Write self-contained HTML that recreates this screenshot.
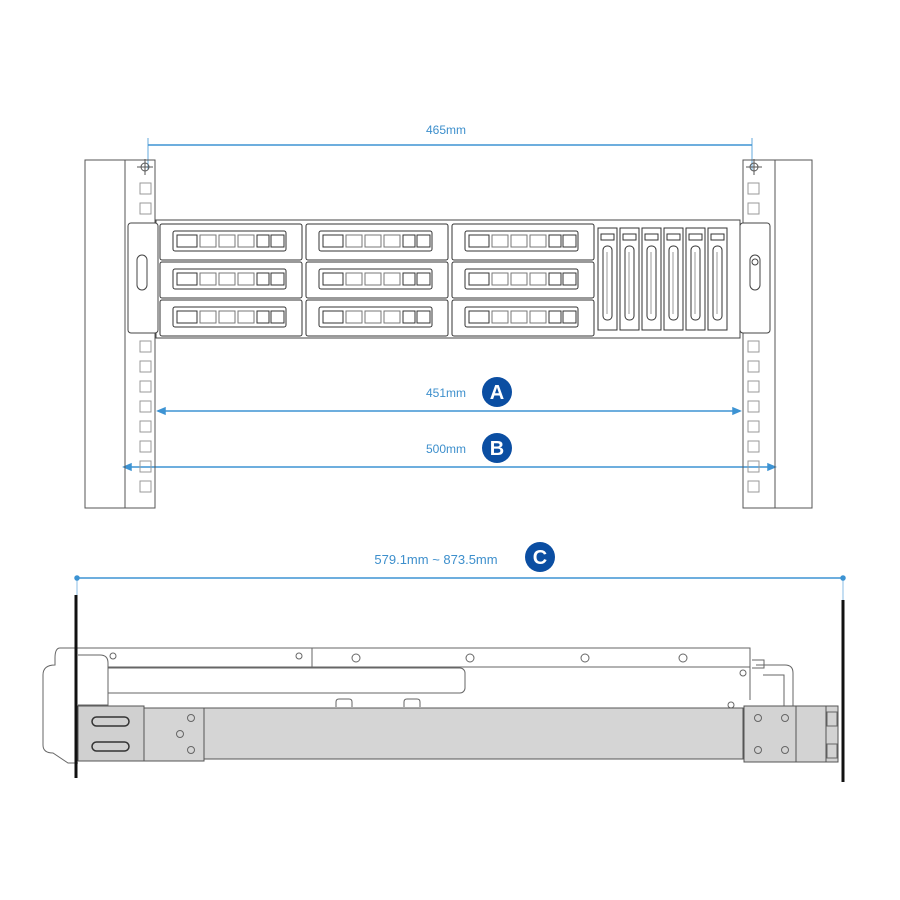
<!DOCTYPE html>
<html><head><meta charset="utf-8"><style>
html,body{margin:0;padding:0;background:#fff;}
svg{display:block;}
text{font-family:"Liberation Sans",sans-serif;}
</style></head><body>
<svg width="900" height="900" viewBox="0 0 900 900" xmlns="http://www.w3.org/2000/svg">
<rect width="900" height="900" fill="#fff"/>
<g stroke="#3d93d3" stroke-width="1.5" fill="#3d93d3">
<line x1="148" y1="145" x2="752" y2="145"/>
<line x1="148" y1="138" x2="148" y2="170" stroke-width="0.8"/>
<line x1="752" y1="138" x2="752" y2="170" stroke-width="0.8"/>
<line x1="158" y1="411" x2="740" y2="411"/>
<path d="M158 411 l7 -3 v6z M740 411 l-7 -3 v6z"/>
<line x1="124" y1="467" x2="775" y2="467"/>
<path d="M124 467 l7 -3 v6z M775 467 l-7 -3 v6z"/>
<line x1="77" y1="578" x2="843" y2="578"/>
<circle cx="77" cy="578" r="2"/><circle cx="843" cy="578" r="2"/>
<line x1="77" y1="578" x2="77" y2="595" stroke-width="0.6"/>
<line x1="843" y1="578" x2="843" y2="600" stroke-width="0.6"/>
</g>
<g fill="#3d8fcc" font-size="12" text-anchor="middle">
<text x="446" y="134">465mm</text>
<text x="446" y="397">451mm</text>
<text x="446" y="453">500mm</text>
<text x="436" y="564" font-size="13">579.1mm ~ 873.5mm</text>
</g>
<g fill="#0b4ea2"><circle cx="497" cy="392" r="15"/><circle cx="497" cy="448" r="15"/><circle cx="540" cy="557" r="15"/></g>
<g fill="#fff" font-size="20" text-anchor="middle" font-weight="bold">
<text x="497" y="399">A</text><text x="497" y="455">B</text><text x="540" y="564">C</text></g>

<g fill="none" stroke="#555" stroke-width="1">
<rect x="85" y="160" width="70" height="348"/>
<line x1="125" y1="160" x2="125" y2="508"/>
<rect x="743" y="160" width="69" height="348"/>
<line x1="775" y1="160" x2="775" y2="508"/>
<circle cx="145" cy="167" r="4"/><line x1="137" y1="167" x2="153" y2="167"/><line x1="145" y1="159" x2="145" y2="175"/>
<circle cx="754" cy="167" r="4"/><line x1="746" y1="167" x2="762" y2="167"/><line x1="754" y1="159" x2="754" y2="175"/>
<g stroke="#999">
<rect x="140" y="183" width="11" height="11"/><rect x="140" y="203" width="11" height="11"/>
<rect x="748" y="183" width="11" height="11"/><rect x="748" y="203" width="11" height="11"/>
</g>
<g stroke="#999">
<rect x="140" y="341" width="11" height="11"/><rect x="140" y="361" width="11" height="11"/><rect x="140" y="381" width="11" height="11"/><rect x="140" y="401" width="11" height="11"/><rect x="140" y="421" width="11" height="11"/><rect x="140" y="441" width="11" height="11"/><rect x="140" y="461" width="11" height="11"/><rect x="140" y="481" width="11" height="11"/>
<rect x="748" y="341" width="11" height="11"/><rect x="748" y="361" width="11" height="11"/><rect x="748" y="381" width="11" height="11"/><rect x="748" y="401" width="11" height="11"/><rect x="748" y="421" width="11" height="11"/><rect x="748" y="441" width="11" height="11"/><rect x="748" y="461" width="11" height="11"/><rect x="748" y="481" width="11" height="11"/>
</g>
</g>

<g fill="#fff" stroke="#444" stroke-width="1">
<rect x="156" y="220" width="584" height="118"/>
<rect x="128" y="223" width="30" height="110" rx="3"/>
<rect x="137" y="255" width="10" height="35" rx="5"/>
<rect x="740" y="223" width="30" height="110" rx="3"/>
<rect x="750" y="255" width="10" height="35" rx="5"/>
<circle cx="755" cy="262" r="3"/>
</g>
<g fill="none" stroke="#333" stroke-width="1">
<g id="row">
<rect x="160" y="224" width="142" height="36" rx="2"/>
<rect x="173" y="231" width="113" height="20" rx="2"/>
<rect x="177" y="235" width="20" height="12"/>
<rect x="200" y="235" width="16" height="12" stroke="#777"/><rect x="219" y="235" width="16" height="12" stroke="#777"/><rect x="238" y="235" width="16" height="12" stroke="#777"/>
<rect x="257" y="235" width="12" height="12"/><rect x="271" y="235" width="13" height="12"/>
</g>
<use href="#row" y="38"/><use href="#row" y="76"/>
<use href="#row" x="146"/><use href="#row" x="146" y="38"/><use href="#row" x="146" y="76"/>
<use href="#row" x="292"/><use href="#row" x="292" y="38"/><use href="#row" x="292" y="76"/>
<g id="vb">
<rect x="598" y="228" width="19" height="102"/>
<rect x="601" y="234" width="13" height="6"/>
<rect x="603" y="246" width="9" height="74" rx="4"/>
<line x1="607" y1="252" x2="607" y2="314" stroke="#999"/>
</g>
<use href="#vb" x="22"/><use href="#vb" x="44"/><use href="#vb" x="66"/><use href="#vb" x="88"/><use href="#vb" x="110"/>
</g>

<g fill="none" stroke="#666" stroke-width="1">
<path d="M60 648 H750 V700"/>
<line x1="108" y1="667" x2="750" y2="667"/>
<line x1="312" y1="648" x2="312" y2="667"/>
<path d="M108 668 H460 a5 5 0 0 1 5 5 V688 a5 5 0 0 1 -5 5 H108"/>
<path d="M60 648 q-5 0 -5 10 V665 q-12 0 -12 10 V745 q0 8 10 8 l15 10 H78"/>
<path d="M78 655 H100 q8 0 8 8 V705 H78"/>
<circle cx="113" cy="656" r="3"/><circle cx="299" cy="656" r="3"/>
<circle cx="356" cy="658" r="4"/><circle cx="470" cy="658" r="4"/><circle cx="585" cy="658" r="4"/><circle cx="683" cy="658" r="4"/>
<path d="M752 660 h12 v8 h-12 M756 665 H785 q8 0 8 8 V707 M763 675 H784 V707"/>
<path d="M336 707 v-5 q0-3 3-3 h10 q3 0 3 3 v5 M404 707 v-5 q0-3 3-3 h10 q3 0 3 3 v5"/>
<circle cx="743" cy="673" r="3"/><circle cx="731" cy="705" r="3"/>
</g>
<g stroke="#555" stroke-width="1">
<rect x="78" y="708" width="665" height="51" fill="#d5d5d5"/>
<rect x="78" y="706" width="66" height="55" fill="#d0d0d0"/>
<rect x="144" y="708" width="60" height="53" fill="#d5d5d5"/>
<rect x="744" y="706" width="52" height="56" fill="#d3d3d3"/>
<rect x="796" y="706" width="42" height="56" fill="#d3d3d3"/>
<line x1="826" y1="706" x2="826" y2="762"/>
</g>
<g fill="none" stroke="#333" stroke-width="1.5">
<rect x="92" y="717" width="37" height="9" rx="4.5"/>
<rect x="92" y="742" width="37" height="9" rx="4.5"/>
</g>
<g fill="none" stroke="#666" stroke-width="1">
<circle cx="191" cy="718" r="3.5"/><circle cx="180" cy="734" r="3.5"/><circle cx="191" cy="750" r="3.5"/>
<circle cx="758" cy="718" r="3.5"/><circle cx="785" cy="718" r="3.5"/><circle cx="758" cy="750" r="3.5"/><circle cx="785" cy="750" r="3.5"/>
<rect x="827" y="712" width="10" height="14"/><rect x="827" y="744" width="10" height="14"/>
</g>
<line x1="76" y1="595" x2="76" y2="778" stroke="#111" stroke-width="3"/>
<line x1="843" y1="600" x2="843" y2="782" stroke="#111" stroke-width="3"/>
</svg>
</body></html>
